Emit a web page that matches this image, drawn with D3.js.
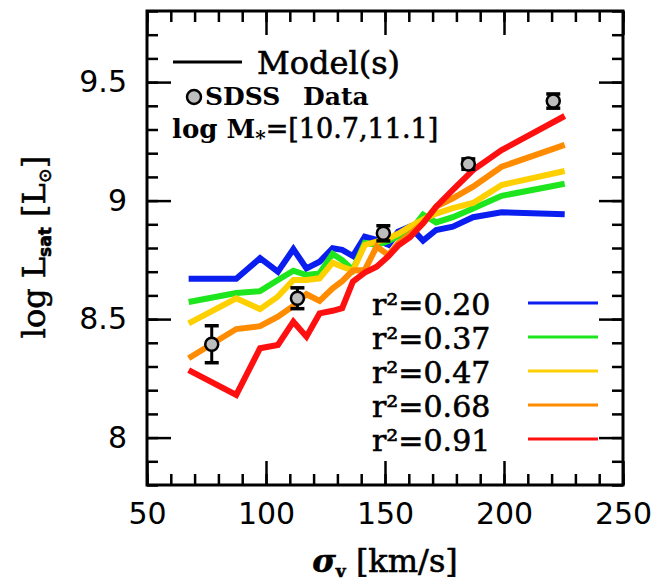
<!DOCTYPE html>
<html>
<head>
<meta charset="utf-8">
<script src="https://cdn.jsdelivr.net/npm/d3@7"></script>
<style>
  html, body { margin: 0; padding: 0; background: #fff; }
  svg { display: block; }
</style>
</head>
<body>
<svg id="chart" width="660" height="587"></svg>
<script>
// Velocity-dispersion bins shared by all model curves (km/s)
const sigmaGrid = [67.5, 87.5, 97.5, 105, 111.5, 117, 122.5, 128, 132, 136.5, 141.5,
                   146.5, 151.5, 155.5, 160.5, 166, 171.5, 178.5, 187, 199, 225.5];

// Model satellite luminosity, log L_sat, one array per scatter level
const modelR020 = [8.67, 8.67, 8.757, 8.70, 8.795, 8.714, 8.742, 8.799, 8.792, 8.766, 8.848,
                   8.834, 8.813, 8.869, 8.89, 8.831, 8.876, 8.89, 8.93, 8.951, 8.942];
const modelR037 = [8.572, 8.61, 8.618, 8.665, 8.704, 8.686, 8.693, 8.775, 8.749, 8.707, 8.822,
                   8.813, 8.83, 8.85, 8.869, 8.941, 8.908, 8.93, 8.967, 9.02, 9.071];
const modelR047 = [8.482, 8.588, 8.542, 8.595, 8.665, 8.665, 8.672, 8.738, 8.721, 8.705, 8.813,
                   8.827, 8.84, 8.86, 8.89, 8.92, 8.945, 8.968, 8.99, 9.066, 9.125];
const modelR068 = [8.335, 8.458, 8.47, 8.51, 8.556, 8.605, 8.577, 8.63, 8.66, 8.705, 8.707,
                   8.806, 8.77, 8.82, 8.86, 8.905, 8.975, 9.01, 9.059, 9.143, 9.235];
const modelR091 = [8.285, 8.18, 8.377, 8.391, 8.489, 8.426, 8.524, 8.535, 8.546, 8.658, 8.696,
                   8.721, 8.766, 8.81, 8.845, 8.904, 8.974, 9.045, 9.129, 9.213, 9.357];

const modelLabels = ["r²=0.20", "r²=0.37", "r²=0.47", "r²=0.68", "r²=0.91"];
const modelColors = ["#0a1ef0", "#1ee61e", "#ffd000", "#ff8c00", "#ff1010"];

// SDSS measurements with 1-sigma errors
const sdssSigma = [77.2, 113.2, 149.3, 185.0, 220.7];
const sdssLogL  = [8.394, 8.588, 8.862, 9.154, 9.42];
const sdssErr   = [0.078, 0.044, 0.032, 0.022, 0.03];

// Axis ticks
const xMajor = [50, 100, 150, 200, 250];
const xMinor = d3.range(50, 251, 10);
const yMajor = [8, 8.5, 9, 9.5];
const yMinor = d3.range(7.8, 9.81, 0.1).map(v => +v.toFixed(1));
const yTickLabels = ["8", "8.5", "9", "9.5"];

const svg = d3.select("#chart");
const L = 147, R = 623, T = 11, B = 485;

const x = d3.scaleLinear().domain([50, 250]).range([L, R]);
const y = d3.scaleLinear().domain([7.8, 9.8]).range([B, T]);

const sans = "'DejaVu Sans', sans-serif";
const serif = "'DejaVu Serif', serif";

// Slightly heavier serif strokes for the annotation text
function heavy(sel, w) {
  return sel.attr("stroke", "#000").attr("stroke-width", w || 0.5);
}

// Model curves
const series = [modelR020, modelR037, modelR047, modelR068, modelR091];
const line = d3.line().x((d, i) => x(sigmaGrid[i])).y(d => y(d));
svg.append("g").selectAll("path").data(series).join("path")
  .attr("d", d => line(d))
  .attr("fill", "none")
  .attr("stroke", (d, i) => modelColors[i])
  .attr("stroke-width", 6)
  .attr("stroke-linejoin", "miter");

// SDSS points with error bars
const pts = sdssSigma.map((s, i) => ({ s, v: sdssLogL[i], e: sdssErr[i] }));
const gp = svg.append("g");
gp.selectAll("line.eb").data(pts).join("line")
  .attr("x1", d => x(d.s)).attr("x2", d => x(d.s))
  .attr("y1", d => y(d.v - d.e)).attr("y2", d => y(d.v + d.e))
  .attr("stroke", "#000").attr("stroke-width", 3);
["lo", "hi"].forEach(k => {
  gp.selectAll("line.cap" + k).data(pts).join("line")
    .attr("x1", d => x(d.s) - 7).attr("x2", d => x(d.s) + 7)
    .attr("y1", d => y(k === "lo" ? d.v - d.e : d.v + d.e))
    .attr("y2", d => y(k === "lo" ? d.v - d.e : d.v + d.e))
    .attr("stroke", "#000").attr("stroke-width", 3.5);
});
gp.selectAll("circle").data(pts).join("circle")
  .attr("cx", d => x(d.s)).attr("cy", d => y(d.v)).attr("r", 6.5)
  .attr("fill", "#bdbdbd").attr("stroke", "#000").attr("stroke-width", 2.5);

// Axes: inward ticks on all four sides
function styleAxis(g) {
  g.select(".domain").remove();
  g.selectAll(".tick line").attr("stroke", "#000").attr("stroke-width", 2.5);
  g.selectAll("text").attr("font-family", sans).attr("font-size", 30).attr("fill", "#000");
}
svg.append("g").attr("transform", `translate(0,${B})`)
  .call(d3.axisBottom(x).tickValues(xMinor).tickSize(-11).tickFormat(""))
  .call(styleAxis);
svg.append("g").attr("transform", `translate(0,${B})`)
  .call(d3.axisBottom(x).tickValues(xMajor).tickSize(-24).tickPadding(18).tickFormat(d3.format("d")))
  .call(styleAxis);
svg.append("g").attr("transform", `translate(0,${T})`)
  .call(d3.axisTop(x).tickValues(xMinor).tickSize(-11).tickFormat(""))
  .call(styleAxis);
svg.append("g").attr("transform", `translate(0,${T})`)
  .call(d3.axisTop(x).tickValues(xMajor).tickSize(-24).tickFormat(""))
  .call(styleAxis);
svg.append("g").attr("transform", `translate(${L},0)`)
  .call(d3.axisLeft(y).tickValues(yMinor).tickSize(-11).tickFormat(""))
  .call(styleAxis);
svg.append("g").attr("transform", `translate(${L},0)`)
  .call(d3.axisLeft(y).tickValues(yMajor).tickSize(-24).tickPadding(20)
        .tickFormat((d, i) => yTickLabels[i]))
  .call(styleAxis);
svg.append("g").attr("transform", `translate(${R},0)`)
  .call(d3.axisRight(y).tickValues(yMinor).tickSize(-11).tickFormat(""))
  .call(styleAxis);
svg.append("g").attr("transform", `translate(${R},0)`)
  .call(d3.axisRight(y).tickValues(yMajor).tickSize(-24).tickFormat(""))
  .call(styleAxis);

// Frame
svg.append("rect").attr("x", L).attr("y", T).attr("width", R - L).attr("height", B - T)
  .attr("fill", "none").attr("stroke", "#000").attr("stroke-width", 3);

// Top-left key
svg.append("line").attr("x1", 173).attr("x2", 242).attr("y1", 62).attr("y2", 62)
  .attr("stroke", "#000").attr("stroke-width", 3);
heavy(svg.append("text").attr("x", 257).attr("y", 74).attr("font-family", serif)
  .attr("font-size", 32).text("Model(s)"), 0.6);
svg.append("circle").attr("cx", 194).attr("cy", 97).attr("r", 7)
  .attr("fill", "#bdbdbd").attr("stroke", "#000").attr("stroke-width", 2.5);
svg.append("text").attr("x", 205).attr("y", 105).attr("font-family", serif)
  .attr("font-size", 25).attr("font-weight", "bold").text("SDSS");
svg.append("text").attr("x", 303).attr("y", 105).attr("font-family", serif)
  .attr("font-size", 25).attr("font-weight", "bold").text("Data");
const mt = svg.append("text").attr("x", 172).attr("y", 138).attr("font-family", serif);
mt.append("tspan").attr("font-size", 26).attr("font-weight", "bold").text("log M");
mt.append("tspan").attr("font-size", 20).attr("font-weight", "bold").attr("dy", 7).text("*");
heavy(mt.append("tspan").attr("font-size", 27).attr("dy", -7).text("=[10.7,11.1]"), 0.6);

// Scatter-level key
const ky0 = 303, kdy = 34;
modelLabels.forEach((lab, i) => {
  heavy(svg.append("text").attr("x", 372).attr("y", ky0 + i * kdy + 12)
    .attr("font-family", serif).attr("font-size", 30).text(lab), 0.6);
  svg.append("line").attr("x1", 528).attr("x2", 598)
    .attr("y1", ky0 + i * kdy).attr("y2", ky0 + i * kdy)
    .attr("stroke", modelColors[i]).attr("stroke-width", 3);
});

// Axis titles
const xt = svg.append("text").attr("x", 385).attr("y", 572).attr("text-anchor", "middle")
  .attr("font-family", serif).attr("font-size", 32);
heavy(xt, 0.6);
xt.append("tspan").attr("font-style", "italic").attr("font-weight", "bold").text("σ");
xt.append("tspan").attr("font-size", 17).attr("font-weight", "bold").attr("dy", 5).text("v");
xt.append("tspan").attr("dy", -5).text(" [km/s]");

const yt = svg.append("text").attr("transform", "translate(45,247) rotate(-90)")
  .attr("text-anchor", "middle").attr("font-family", serif).attr("font-size", 32);
heavy(yt, 0.6);
yt.append("tspan").text("log L");
yt.append("tspan").attr("font-family", sans).attr("font-size", 17).attr("font-weight", "bold")
  .attr("dy", 6).text("sat");
yt.append("tspan").attr("dy", -6).text("  [L");
yt.append("tspan").attr("font-size", 18).attr("dy", 6).text("⊙");
yt.append("tspan").attr("dy", -6).text("]");
</script>
</body>
</html>
